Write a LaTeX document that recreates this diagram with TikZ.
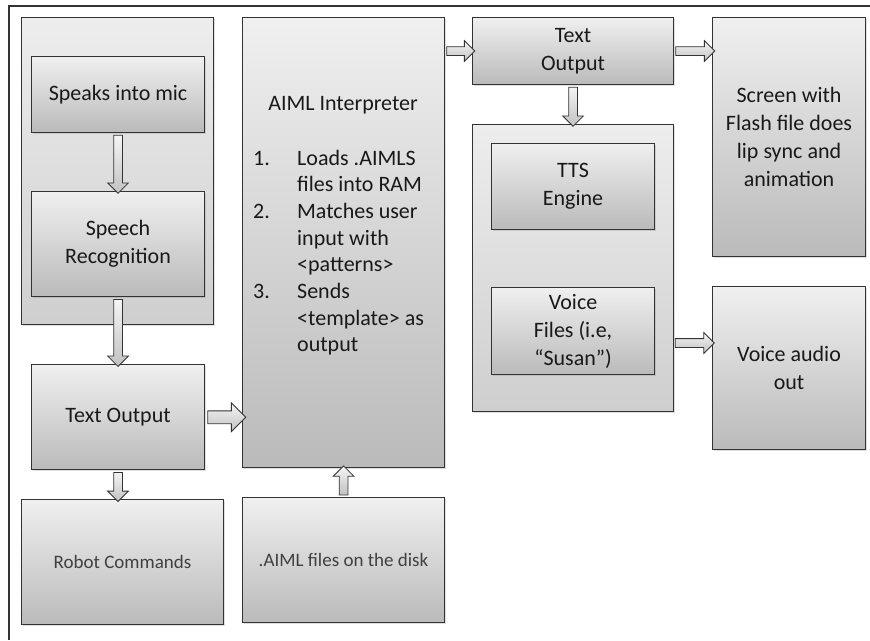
\documentclass[tikz,border=0pt]{standalone}
\usepackage{fontspec}
\setmainfont{Carlito}
\usetikzlibrary{positioning, shapes.arrows, shadows}

\begin{document}
\begin{tikzpicture}[x=1pt, y=-1pt,
            box/.style={draw=black!80, line width=1.1pt, rectangle, top color=black!6, bottom color=black!27, drop shadow={opacity=0.25, shadow xshift=1.5pt, shadow yshift=-1.5pt}, text=black!90, align=center, inner sep=0pt, font=\fontsize{22}{28}\selectfont},
            groupbox/.style={box, top color=black!7, bottom color=black!19},
            smallbox/.style={box, text=black!75, font=\fontsize{19}{23}\selectfont},
            boxtext/.style={text=black!90, inner sep=0pt, font=\fontsize{22}{26.7}\selectfont},
            flow/.style={single arrow, draw=black!80, line width=0.8pt, top color=black!4, bottom color=black!24, inner sep=4pt, single arrow head extend=6pt, midway, sloped, allow upside down},
            bigflow/.style={flow, inner sep=6pt, single arrow head extend=8pt},
            frame/.style={draw=black!80, line width=1.5pt}
        ]

        \useasboundingbox (0,0) rectangle (870,640);
        \draw[frame] (870,6) -- (9,6) -- (9,640);

        % Spracheingabe
        \node[groupbox, anchor=north west, minimum width=192pt, minimum height=307pt] (speechgrp) at (21,17) {};
        \node[box, anchor=north west, minimum width=173pt, minimum height=76pt] (mic) at (31,56) {Speaks into mic};
        \node[box, below=58pt of mic, minimum width=173pt, minimum height=105pt] (recog) {Speech\\Recognition};
        \node[box, below=67pt of recog, minimum width=173pt, minimum height=105pt] (textout) {Text Output};
        \node[smallbox, below=29pt of textout, xshift=4.5pt, minimum width=202pt, minimum height=125pt] (robot) {Robot Commands};

        % Interpreter
        \node[box, anchor=north west, minimum width=202pt, minimum height=450pt] (aiml) at (242,17) {};
        \node[boxtext, anchor=base] (aimltitle) at (343,110) {AIML Interpreter};
        \node[boxtext, anchor=base west] (aimlsteps) at (253,165) {\begin{tabular}[t]{@{}p{44pt}@{}l@{}}
            1. & Loads .AIMLS\\
               & files into RAM\\
            2. & Matches user\\
               & input with\\
               & <patterns>\\
            3. & Sends\\
               & <template> as\\
               & output
        \end{tabular}};
        \node[smallbox, below=29pt of aiml, minimum width=202pt, minimum height=125pt] (disk) {.AIML files on the disk};

        % Ausgabe
        \node[box, anchor=north west, minimum width=201pt, minimum height=67pt] (speechout) at (472,17) {Text\\Output};
        \node[groupbox, below=39pt of speechout, minimum width=201pt, minimum height=287pt] (ttsgrp) {};
        \node[box, below=19pt of ttsgrp.north, minimum width=163pt, minimum height=86pt] (tts) {TTS\\Engine};
        \node[box, below=57pt of tts, minimum width=163pt, minimum height=87pt] (voicefiles) {Voice\\Files (i.e,\\“Susan”)};
        \node[box, anchor=north west, minimum width=153pt, minimum height=239pt] (screen) at (712,17) {Screen with\\Flash file does\\lip sync and\\animation};
        \node[box, below=29pt of screen, minimum width=153pt, minimum height=163pt] (audio) {Voice audio\\out};
        \coordinate (ttsout) at (673,343);

        % Pfeile
        \path (mic.south) -- (recog.north) node[flow, minimum height=58pt] {};
        \path (recog.south) -- (textout.north) node[flow, minimum height=67pt] {};
        \path (textout.south) -- (textout.south |- robot.north) node[flow, minimum height=29pt] {};
        \path (textout.east) -- (aiml.west |- textout.east) node[bigflow, minimum height=38pt] {};
        \path (disk.north) -- (aiml.south) node[flow, minimum height=29pt] {};
        \path (aiml.east |- speechout.west) -- (speechout.west) node[flow, minimum height=28pt] {};
        \path (speechout.east) -- (screen.west |- speechout.east) node[flow, minimum height=39pt] {};
        \path (speechout.south) -- (ttsgrp.north) node[flow, minimum height=39pt] {};
        \path (ttsout) -- (audio.west |- ttsout) node[flow, minimum height=39pt] {};

    \end{tikzpicture}
\end{document}
